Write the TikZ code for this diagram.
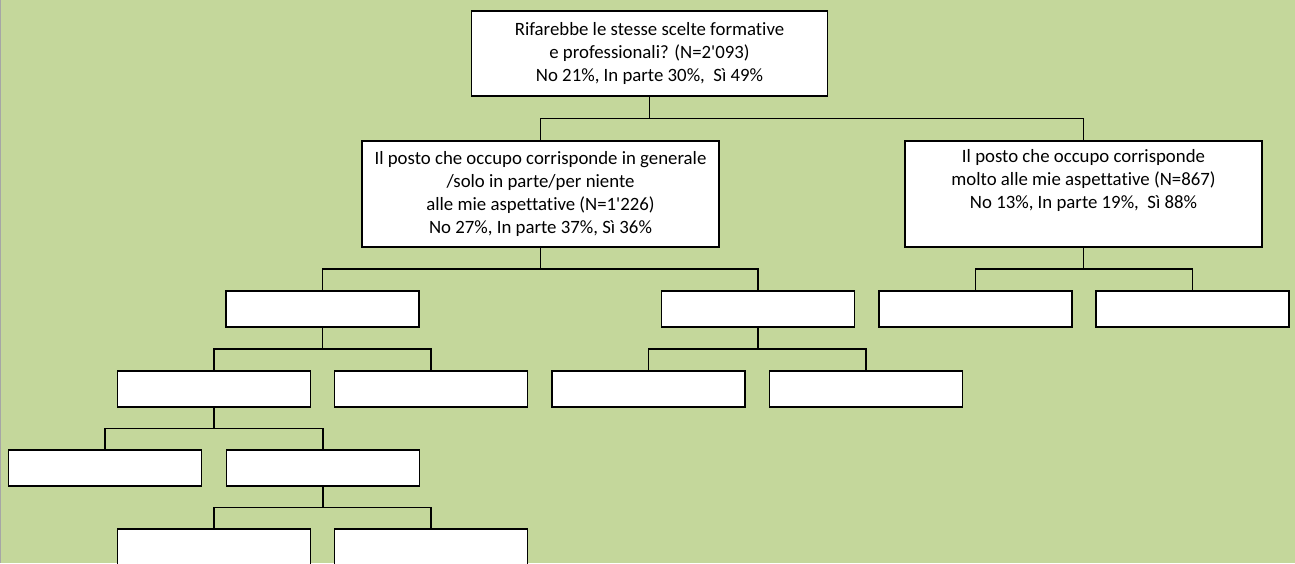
\documentclass[tikz,border=0pt]{standalone}
\usepackage{fontspec}
\setmainfont{Carlito}[Ligatures={TeX,NoCommon}]
\usetikzlibrary{calc}
\definecolor{chartgreen}{RGB}{196,215,155}

\begin{document}
\begin{tikzpicture}[x=1pt,y=-1pt,
    box/.style={draw,line width=1.8pt,fill=white,align=center,
      font=\fontsize{18.8}{23}\selectfont,inner sep=0pt},
    bigbox/.style={box,minimum width=357pt,minimum height=106pt},
    leaf/.style={box,minimum width=193pt,minimum height=36pt}]
  \useasboundingbox (0,0) rectangle (1295,563);
  \fill[chartgreen] (0,0) rectangle (1295,563);
  \draw[gray!70,line width=1pt] (0.5,0) -- (0.5,563);
  % question and first split
  \node[box,minimum width=356pt,minimum height=85pt] (q) at (649.5,53.5)
    {Rifarebbe le stesse scelte formative\\
     e professionali? (N=2\textquotesingle093)\\
     No 21\%, In parte 30\%,\ \ Sì 49\%};
  \node[bigbox] (gen) at (540.5,194)
    {Il posto che occupo corrisponde in generale\\
     /solo in parte/per niente\\
     alle mie aspettative (N=1\textquotesingle226)\\
     No 27\%, In parte 37\%, Sì 36\%};
  \node[bigbox] (molto) at (1083.5,194)
    {Il posto che occupo corrisponde\\
     molto alle mie aspettative (N=867)\\
     No 13\%, In parte 19\%,\ \ Sì 88\%\\
     \strut};
  % empty leaves
  \node[leaf] (g1) at (322.5,309) {};
  \node[leaf] (g2) at (758,309) {};
  \node[leaf] (m1) at (975.5,309) {};
  \node[leaf] (m2) at (1192.5,309) {};
  \node[leaf] (g11) at (214,389) {};
  \node[leaf] (g12) at (431,389) {};
  \node[leaf] (g21) at (648.5,389) {};
  \node[leaf] (g22) at (866,389) {};
  \node[leaf] (g111) at (105,468) {};
  \node[leaf] (g112) at (323,468) {};
  \node[leaf] (g1121) at (214,547) {};
  \node[leaf] (g1122) at (431,547) {};
  \foreach \p/\c in {q/gen,q/molto,gen/g1,gen/g2,molto/m1,molto/m2,
      g1/g11,g1/g12,g2/g21,g2/g22,g11/g111,g11/g112,
      g112/g1121,g112/g1122}{
    \draw[line width=1.8pt] (\p.south) |- ($(\p.south)!.5!(\c.north)$) -| (\c.north);
  }
\end{tikzpicture}
\end{document}
